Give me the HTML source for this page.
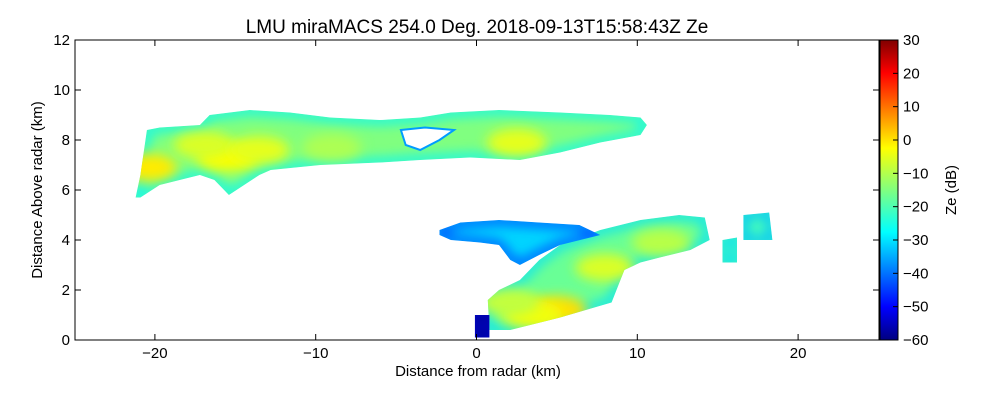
<!DOCTYPE html>
<html><head><meta charset="utf-8"><style>
body{margin:0;background:#fff;}
svg{display:block;font-family:"Liberation Sans",sans-serif;}
</style></head><body>
<svg id="chart" width="1000" height="400" viewBox="0 0 1000 400">
<defs>
<linearGradient id="jet" x1="0" y1="1" x2="0" y2="0">
<stop offset="0" stop-color="#000080"/><stop offset="0.11" stop-color="#0000ff"/>
<stop offset="0.36" stop-color="#00ffff"/><stop offset="0.5" stop-color="#80ff80"/>
<stop offset="0.64" stop-color="#ffff00"/><stop offset="0.89" stop-color="#ff0000"/>
<stop offset="1" stop-color="#800000"/></linearGradient>
<filter id="blur" x="-50%" y="-50%" width="200%" height="200%"><feGaussianBlur stdDeviation="6"/></filter>
</defs>
<text x="477" y="33" text-anchor="middle" font-size="19">LMU miraMACS 254.0 Deg. 2018-09-13T15:58:43Z  Ze</text>
<g id="plot"></g>
<rect x="75" y="40" width="804" height="300" fill="none" stroke="#000"/>
<rect x="880" y="40" width="18" height="300" fill="url(#jet)" stroke="#000"/>
<g id="axes"></g>
<text x="478" y="376" text-anchor="middle" font-size="15">Distance from radar (km)</text>
<text transform="translate(42,190) rotate(-90)" text-anchor="middle" font-size="15">Distance Above radar  (km)</text>
<text transform="translate(956,190) rotate(-90)" text-anchor="middle" font-size="15">Ze (dB)</text>
</svg>
<script>
const xTicks=[-20,-10,0,10,20];
const yTicks=[0,2,4,6,8,10,12];
const cbTicks=[-60,-50,-40,-30,-20,-10,0,10,20,30];
// echo regions: [distance km, height km] outlines and mean reflectivity dB
const upperBand=[[-21.2,5.7],[-20.9,6.6],[-20.5,8.4],[-19.7,8.5],[-17.2,8.6],[-16.6,9.0],[-14.1,9.2],[-11.6,9.1],[-9.1,8.9],[-6,8.8],[-3.5,8.9],[-1.6,9.1],[1.4,9.2],[5.2,9.1],[8.3,9.0],[10.2,8.9],[10.6,8.6],[10.2,8.2],[7.7,7.9],[5.2,7.5],[2.7,7.2],[-0.4,7.3],[-3.5,7.2],[-6,7.1],[-9.7,7.0],[-12.8,6.8],[-13.5,6.6],[-15.4,5.8],[-16.3,6.4],[-17.2,6.6],[-19.7,6.2],[-20.9,5.7]];
const upperHole=[[-4.7,8.4],[-3.2,8.5],[-1.4,8.4],[-2.3,8.0],[-3.5,7.6],[-4.4,7.8]];
const lowerMain=[[0.8,0.4],[0.7,1.6],[1.4,2.0],[2.7,2.4],[3.9,3.2],[5.2,3.8],[7.7,4.4],[10.2,4.8],[12.6,5.0],[14.2,4.9],[14.5,4.0],[13.3,3.6],[11.4,3.3],[10.2,3.1],[9.2,2.8],[8.4,1.5],[5.2,0.9],[2.1,0.4]];
const lowerTop=[[-2.3,4.4],[-1.0,4.7],[1.4,4.8],[3.9,4.7],[6.4,4.6],[7.7,4.2],[5.2,3.8],[3.9,3.4],[2.7,3.0],[2.1,3.2],[1.4,3.8],[0.2,3.9],[-1.6,4.0],[-2.3,4.2]];
const fragA=[[15.3,4.0],[16.2,4.1],[16.2,3.1],[15.3,3.1]];
const fragB=[[16.6,5.0],[18.2,5.1],[18.4,4.0],[16.6,4.0]];
const fragC=[[-0.1,1.0],[0.8,1.0],[0.8,0.1],[-0.1,0.1]];
const regions=[[upperBand,-15],[lowerMain,-17],[lowerTop,-30],[fragA,-17],[fragB,-20],[fragC,-48]];
const hotSpots=[[-20.5,6.9,-2],[-15.5,7.3,-4],[-17,7.8,-7],[-13.5,7.6,-6],[2.5,7.9,-6],[-9,7.7,-11],[5,1.2,-1],[3.5,1.0,-5],[8,2.9,-7],[11.5,3.9,-10],[2,1.5,-9]];
const x=v=>476.5+v*16.08, y=v=>340-v*25;
const cbY=v=>340-(v+60)/90*300;
function jet(dB){let t=(dB+60)/90;const c=u=>Math.round(255*Math.max(0,Math.min(1,1.5-Math.abs(4*t-u))));return `rgb(${c(3)},${c(2)},${c(1)})`;}
const NS='http://www.w3.org/2000/svg';
const plot=document.getElementById('plot'),axes=document.getElementById('axes');
function mk(t,a,p){const e=document.createElementNS(NS,t);for(const k in a)e.setAttribute(k,a[k]);p.appendChild(e);return e;}
const pts=arr=>arr.map(p=>x(p[0]).toFixed(1)+','+y(p[1]).toFixed(1)).join(' ');
const defs=document.querySelector('defs');
regions.forEach((r,i)=>{
 const cp=mk('clipPath',{id:'cp'+i},defs);mk('polygon',{points:pts(r[0])},cp);
 const g=mk('g',{'clip-path':'url(#cp'+i+')'},plot);
 const poly=mk('polygon',{points:pts(r[0]),fill:jet(r[1])},g);
 
 
 mk('polygon',{points:pts(r[0]),fill:'none',stroke:jet(r[1]-12),'stroke-width':8,filter:'url(#blur)'},g);
 if(i<2)hotSpots.forEach(h=>{const s=mk('ellipse',{cx:x(h[0]),cy:y(h[1]),rx:30,ry:14,fill:jet(h[2]),filter:'url(#blur)'},g);
  
  });
});
const hole=mk('polygon',{points:pts(upperHole),fill:'#fff',stroke:jet(-35),'stroke-width':2}, plot);


xTicks.forEach(v=>{mk('line',{x1:x(v),x2:x(v),y1:340,y2:334,stroke:'#000'},axes);mk('line',{x1:x(v),x2:x(v),y1:40,y2:46,stroke:'#000'},axes);
 const t=mk('text',{x:x(v),y:358,'text-anchor':'middle','font-size':15},axes);t.textContent=(v<0?'\u2212':'')+Math.abs(v);
 
 });
yTicks.forEach(v=>{mk('line',{x1:75,x2:81,y1:y(v),y2:y(v),stroke:'#000'},axes);mk('line',{x1:879,x2:873,y1:y(v),y2:y(v),stroke:'#000'},axes);
 const t=mk('text',{x:70,y:y(v)+5,'text-anchor':'end','font-size':15},axes);t.textContent=v;
 
 });
cbTicks.forEach(v=>{mk('line',{x1:893,x2:898,y1:cbY(v),y2:cbY(v),stroke:'#000'},axes);
 const t=mk('text',{x:903,y:cbY(v)+5,'font-size':15},axes);t.textContent=(v<0?'\u2212':'')+Math.abs(v);
 
 });
</script>
</body></html>
